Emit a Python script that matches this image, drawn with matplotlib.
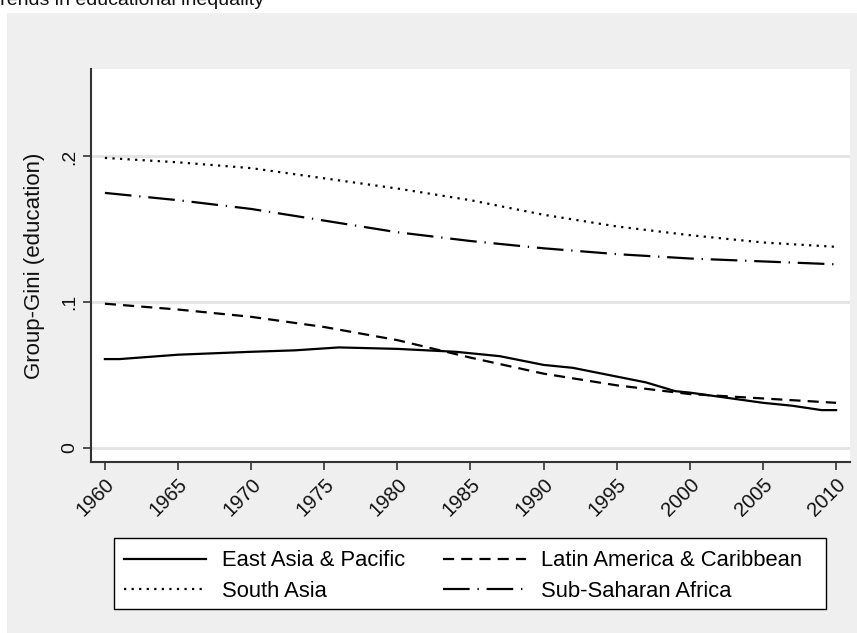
import matplotlib
matplotlib.use("Agg")
import matplotlib.pyplot as plt
from matplotlib.patches import Rectangle

plt.rcParams['font.family'] = ['Liberation Sans', 'DejaVu Sans']

# Group-Gini of education by region
years_eap = [1960, 1961, 1965, 1970, 1973, 1976, 1980, 1984, 1987, 1990, 1992, 1995, 1997, 1999, 2000, 2005, 2007, 2009, 2010]
east_asia = [0.061, 0.061, 0.064, 0.066, 0.067, 0.069, 0.068, 0.066, 0.063, 0.057, 0.055, 0.049, 0.045, 0.039, 0.038, 0.031, 0.029, 0.026, 0.026]

years = [1960, 1965, 1970, 1975, 1980, 1985, 1990, 1995, 2000, 2005, 2010]
latin_america = [0.099, 0.095, 0.090, 0.083, 0.074, 0.062, 0.051, 0.043, 0.037, 0.034, 0.031]
south_asia = [0.199, 0.196, 0.192, 0.185, 0.178, 0.170, 0.160, 0.152, 0.146, 0.141, 0.138]
sub_saharan = [0.175, 0.170, 0.164, 0.156, 0.148, 0.142, 0.137, 0.133, 0.130, 0.128, 0.126]

xticks = list(range(1960, 2011, 5))
yticks = [0, 0.1, 0.2]
ytick_labels = ['0', '.1', '.2']

W, H = 857, 633
fig = plt.figure(figsize=(W / 100, H / 100), dpi=100, facecolor='white')

# grey graph region like Stata's s2color scheme
fig.patches.append(Rectangle((7 / W, 0), 1 - 7 / W, 1 - 13 / H, transform=fig.transFigure,
                             facecolor='#efefef', edgecolor='none', zorder=-10))
# legend box (fixed size, wider than its contents as in Stata)
fig.patches.append(Rectangle((114 / W, 1 - 609 / H), (826 - 114) / W, (609 - 538) / H,
                             transform=fig.transFigure, facecolor='white', edgecolor='black',
                             lw=1.0, zorder=-5))

fig.text(-11 / W, 1 - 5 / H, 'Trends in educational inequality', fontsize=14,
         ha='left', va='baseline', color='#111111')

ax = fig.add_axes([91 / W, (H - 462) / H, (850 - 91) / W, (462 - 69) / H])
ax.set_zorder(2)
ax.set_facecolor('white')

l_eap, = ax.plot(years_eap, east_asia, color='black', lw=1.6, ls='-')
l_lac, = ax.plot(years, latin_america, color='black', lw=1.6, ls=(0, (5, 3.2)))
l_sa, = ax.plot(years, south_asia, color='black', lw=1.6, ls=(0, (1, 2.4)))
l_ssa, = ax.plot(years, sub_saharan, color='black', lw=1.6, ls=(0, (12, 3.5, 0.6, 3.5)))

ax.set_xlim(1959.05, 2010.95)
ax.set_ylim(-0.0096, 0.26)

ax.set_yticks(yticks)
ax.set_yticklabels(ytick_labels, rotation=90, va='center', fontsize=14)
ax.set_xticks(xticks)
ax.set_xticklabels([str(x) for x in xticks], rotation=45, ha='right', va='top',
                   rotation_mode='anchor', fontsize=14.5)

ax.grid(axis='y', color='#e3e3e3', lw=2)
ax.set_axisbelow(True)
ax.tick_params(direction='out', length=6, width=1.2, color='#333333', labelcolor='#111111', pad=3)

for side in ['top', 'right']:
    ax.spines[side].set_visible(False)
for side in ['left', 'bottom']:
    ax.spines[side].set_color('#333333')
    ax.spines[side].set_linewidth(1.5)

ax.set_ylabel('Group-Gini (education)', fontsize=16, color='#111111', labelpad=12)

# column-major fill -> rows: EAP | LAC, SA | SSA
handles = [l_eap, l_sa, l_lac, l_ssa]
labels = ['East Asia & Pacific', 'South Asia', 'Latin America & Caribbean', 'Sub-Saharan Africa']
leg = fig.legend(handles, labels, loc='center left', bbox_to_anchor=(124 / W, 1 - 576 / H), ncol=2,
                 fontsize=15.8, frameon=False, handlelength=3.75, handletextpad=0.7,
                 columnspacing=1.75, borderpad=0, labelspacing=0.42, borderaxespad=0)

fig.savefig('out.png', dpi=100, facecolor=fig.get_facecolor())
